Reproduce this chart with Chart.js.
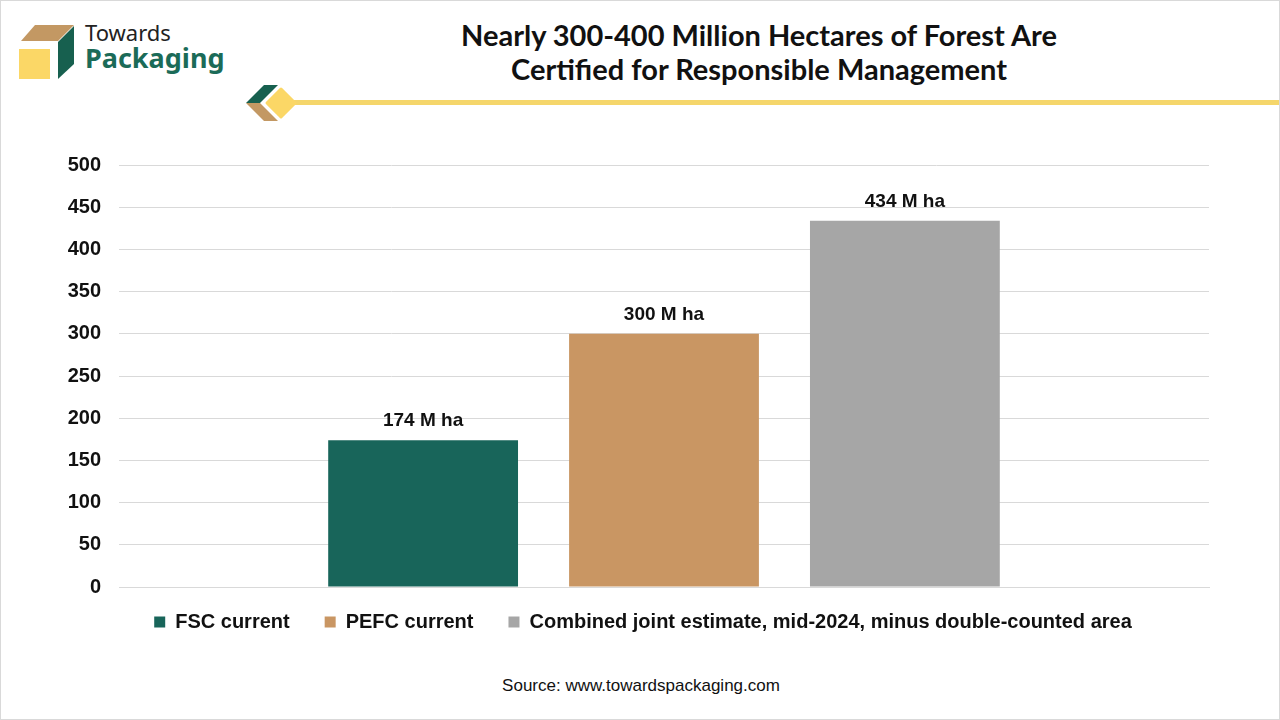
<!DOCTYPE html>
<html><head><meta charset="utf-8">
<script src="https://cdn.jsdelivr.net/npm/chart.js@4.4.0/dist/chart.umd.min.js"></script>
<style>
html,body{margin:0;padding:0;background:#fff;}
#page{position:relative;width:1278px;height:718px;border:1px solid #d9d9d9;overflow:hidden;background:#fff;}
#title{position:absolute;left:380px;width:756px;top:17px;text-align:center;font-family:Lato,"Open Sans",sans-serif;font-weight:700;font-size:29px;line-height:34px;color:#111;}
#brand1{position:absolute;left:84px;top:16px;font-family:"Noto Sans",sans-serif;font-size:22px;color:#222;}
#brand2{position:absolute;left:84px;top:38px;font-family:"Noto Sans",sans-serif;font-weight:700;font-size:27px;color:#1b6b58;}
#source{position:absolute;left:0;width:1280px;top:675px;text-align:center;font-family:"Liberation Sans Narrow","Arial Narrow",sans-serif;font-size:17px;color:#111;}
#wrap{position:absolute;left:0;top:134px;width:1280px;height:517px;}
svg{position:absolute;left:0;top:0;}
</style></head>
<body><div id="page">
<svg width="1280" height="130">
  <polygon points="20,40 34,24 73,24 57,40" fill="#c39863"/>
  <polygon points="57,41 73,25 73,63 57,78" fill="#17604f"/>
  <rect x="18" y="48" width="31" height="30" fill="#fbd766"/>
  <polygon points="245,102 263,84 277,84 259,102" fill="#17604f"/>
  <polygon points="245,102 259,102 277,120 263,120" fill="#c39863"/>
  <rect x="287" y="99" width="993" height="5" fill="#f5d66b"/>
  <polygon points="280,88 294,102 280,116 266,102" fill="#fbd766" stroke="#fbd766" stroke-width="3" stroke-linejoin="round"/>
</svg>
<div id="brand1">Towards</div>
<div id="brand2">Packaging</div>
<div id="title">Nearly 300-400 Million Hectares of Forest Are<br>Certified for Responsible Management</div>
<div id="wrap"><canvas id="c"></canvas></div>
<div id="source">Source: www.towardspackaging.com</div>
</div>
<script>
const categories = [""];
const seriesNames = ["FSC current", "PEFC current", "Combined joint estimate, mid-2024, minus double-counted area"];
const fscValues = [174];
const pefcValues = [300];
const combinedValues = [434];
const valueLabels = ["174 M ha", "300 M ha", "434 M ha"];
const yTicks = [0, 50, 100, 150, 200, 250, 300, 350, 400, 450, 500];
const colors = ["#18655a", "#c99663", "#a6a6a6"];

const labelPlugin = {
  id: 'valueLabels',
  afterDatasetsDraw(chart) {
    const ctx = chart.ctx;
    ctx.save();
    ctx.font = 'bold 19px "Liberation Sans", Arial, sans-serif';
    ctx.fillStyle = '#111';
    ctx.textAlign = 'center';
    ctx.textBaseline = 'middle';
    chart.data.datasets.forEach((ds, i) => {
      const bar = chart.getDatasetMeta(i).data[0];
      ctx.fillText(valueLabels[i], bar.x, bar.y - 19);
    });
    ctx.restore();
  }
};
const legendShift = {
  id: 'legendShift',
  afterLayout(chart) {
    const l = chart.legend;
    l.top -= 10; l.bottom -= 10;
    l.left += 38; l.right += 38;
  }
};

new Chart(document.getElementById('c'), {
  type: 'bar',
  data: {
    labels: categories,
    datasets: [
      {label: seriesNames[0], data: fscValues, backgroundColor: colors[0]},
      {label: seriesNames[1], data: pefcValues, backgroundColor: colors[1]},
      {label: seriesNames[2], data: combinedValues, backgroundColor: colors[2]}
    ]
  },
  options: {
    responsive: true,
    maintainAspectRatio: false,
    animation: false,
    layout: {padding: {left: 0, right: 72, top: 14, bottom: 0}},
    datasets: {bar: {categoryPercentage: 0.663, barPercentage: 0.788}},
    scales: {
      x: {
        ticks: {display: false},
        grid: {display: false, drawTicks: false},
        border: {display: true, color: '#d9d9d9'}
      },
      y: {
        min: 0, max: 500,
        afterFit(s) { s.width = 118; },
        afterBuildTicks(s) { s.ticks = yTicks.map(v => ({value: v})); },
        ticks: {padding: 18, color: '#111', font: {family: '"Liberation Sans", Arial, sans-serif', size: 20, weight: 'bold'}},
        grid: {color: '#d9d9d9', drawTicks: false},
        border: {display: false}
      }
    },
    plugins: {
      tooltip: {enabled: false},
      legend: {
        position: 'bottom',
        labels: {
          boxWidth: 11, boxHeight: 11, padding: 35, color: '#111',
          font: {family: '"Liberation Sans", Arial, sans-serif', size: 20, weight: 'bold'}
        }
      }
    }
  },
  plugins: [labelPlugin, legendShift]
});
</script>
</body></html>
